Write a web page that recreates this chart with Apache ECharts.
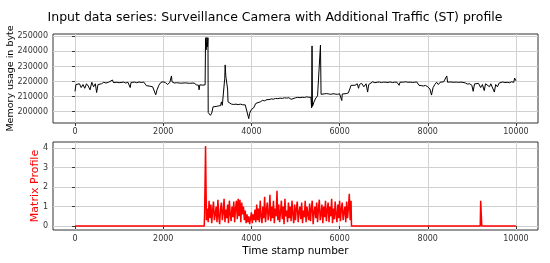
<!DOCTYPE html>
<html>
<head>
<meta charset="utf-8">
<script src="https://cdn.jsdelivr.net/npm/echarts@6/dist/echarts.min.js"></script>
<style>
html,body{margin:0;padding:0;background:#fff;}
#echart{width:550px;height:263px;}
</style>
</head>
<body>
<div id="echart"></div>
<script>
// memory usage (top panel)
var memT = [0,20,60,100,140,180,220,260,300,340,380,420,460,490,520,560,600,650,700,760,800,850,870,950,1000,1100,1150,1200,1250,1270,1350,1400,1450,1500,1560,1600,1620,1680,1720,1760,1800,1830,1860,1900,1950,2000,2050,2100,2150,2187,2200,2250,2300,2400,2500,2600,2700,2750,2800,2813,2830,2900,2950,2960,2975,2990,3005,3015,3020,3040,3070,3100,3130,3200,3250,3300,3320,3340,3380,3395,3405,3420,3440,3460,3470,3500,3550,3600,3650,3700,3750,3800,3860,3900,3940,3960,4000,4050,4100,4150,4200,4250,4300,4350,4400,4450,4500,4550,4600,4650,4700,4750,4800,4850,4900,4920,5000,5050,5100,5150,5200,5250,5300,5350,5365,5375,5385,5420,5460,5500,5540,5566,5580,5650,5700,5750,5800,5850,5900,5950,6000,6050,6060,6100,6150,6200,6240,6260,6300,6350,6400,6430,6450,6500,6550,6600,6636,6660,6700,6750,6800,6850,6900,6950,7000,7050,7100,7150,7200,7250,7300,7350,7370,7400,7450,7500,7550,7600,7650,7700,7750,7800,7850,7900,7950,8000,8050,8084,8120,8160,8200,8240,8280,8320,8360,8400,8431,8450,8500,8550,8600,8650,8700,8750,8800,8850,8900,8950,9000,9030,9060,9100,9150,9200,9240,9280,9310,9350,9400,9430,9470,9510,9540,9580,9620,9660,9700,9750,9800,9850,9900,9950,9970,9999];
var memV = [213500,218000,217500,218500,216000,218000,215500,218500,217000,214500,219500,216500,218500,212700,218000,219000,218500,219500,219000,219500,219200,221000,219300,219500,219200,219600,219000,219500,216000,219400,219600,219200,219700,219400,219600,219500,217200,217000,217500,216500,215500,211200,214500,217500,219500,219800,219300,218000,219500,223700,219800,219000,219200,218900,219100,218800,219000,217800,217500,214500,217800,217600,217800,249000,241000,249200,243000,249000,199500,198500,197600,199000,203200,203500,203800,204000,206500,204200,204500,222000,231000,223500,223000,215000,206500,205500,205000,204800,205000,204700,205000,204600,204500,203500,195400,199000,201500,202500,205500,206000,206500,207500,207200,208000,208000,208500,208300,208800,208600,209000,208800,209200,209000,209300,208200,209300,209200,209500,209300,209600,209400,209800,209600,209500,202600,243600,203500,206500,209000,210500,211200,244100,211500,211800,212000,211800,211500,211900,211700,211500,211900,207400,211700,211800,212000,212500,212300,217500,218000,217500,218500,215500,218000,218800,216500,218500,213000,218000,218500,219800,219200,219500,219700,219300,219600,219500,219400,219700,219300,219600,219500,217500,219500,219400,219600,219800,219500,219600,219400,219500,219700,217500,217300,217000,217400,216500,215000,211000,216000,218000,219500,218000,219500,219200,219800,219400,223700,219500,219700,219600,219500,219600,219400,219600,219400,219100,218300,218500,217500,213500,218400,218300,218800,216000,218000,214000,218500,218300,216500,218500,218400,213000,218000,216500,219000,218500,219700,219300,219500,219200,219800,219500,222300,220500];

// matrix profile (bottom panel): flat parts
var mpT = [0,2930,6270,9190,9200,9210,9225,9999];
var mpV = [0,0,0,0,1.3,1.4,0,0];
// dense noisy block, one reading every 20 stamps from 2940
var mpNoiseStart = 2940;
var mpNoiseStep = 20;
var mpNoise = [
  0.75,4.1,0.3,0.9,0.2,1.3,0.4,1.1,0.15,0.8,1.25,0.3,0.6,1.0,0.2,1.35,0.5,0.1,0.9,1.2,0.3,0.7,1.4,0.2,0.85,0.4,1.1,0.15,1.3,0.6,0.25,1.0,0.45,1.25,0.2,0.9,1.3,0.35,1.4,0.5,1.35,0.2,1.2,0.6,1.0,0.3,0.8,0.15,0.6,
  0.2,0.5,0.1,0.4,0.7,0.15,0.6,0.3,0.85,0.2,
  1.1,0.3,0.9,0.2,1.3,0.5,0.15,1.0,0.4,1.5,0.2,0.8,1.2,0.3,0.6,1.6,0.25,1.0,0.4,1.3,
  0.15,0.9,0.5,1.8,0.3,1.1,0.2,0.7,1.3,0.35,1.0,0.1,1.4,0.5,0.8,0.2,1.2,0.4,1.0,0.25,
  1.3,0.6,0.15,1.1,0.3,0.9,1.25,0.2,0.7,1.0,0.35,1.2,0.15,0.8,0.45,1.3,0.2,1.0,0.6,0.3,
  1.15,0.25,0.9,1.3,0.1,0.7,1.0,0.4,1.2,0.2,0.85,1.35,0.3,0.6,1.1,0.15,1.0,0.45,1.3,0.25,
  0.8,1.2,0.2,1.0,0.5,1.4,0.15,0.9,0.35,1.25,0.6,0.2,1.1,0.4,1.3,0.25,0.9,1.2,0.3,0.7,
  1.0,0.2,1.25,0.4,0.9,1.65,0.3,1.3
];

var xTicks = [0,2000,4000,6000,8000,10000];
var memTicks = [200000,210000,220000,230000,240000,250000];
var mpTicks = [0,1,2,3,4];

var memData = [];
for (var i = 0; i < memT.length; i++) memData.push([memT[i], memV[i]]);

var mpData = [];
mpData.push([mpT[0], mpV[0]], [mpT[1], mpV[1]]);
for (var j = 0; j < mpNoise.length; j++) {
  mpData.push([mpNoiseStart + j * mpNoiseStep, mpNoise[j]]);
}
for (var k = 2; k < mpT.length; k++) mpData.push([mpT[k], mpV[k]]);

var FONT = 'DejaVu Sans';
var gridLine = { show: true, lineStyle: { color: '#d0d0d0', width: 1 } };
// plain numbers, no thousands separators
function plain(v) { return String(v); }
var tickLabel = { color: '#333', fontSize: 8, fontFamily: FONT, formatter: plain };

function xAxisOf(idx, name) {
  return {
    type: 'value', gridIndex: idx, min: -500, max: 10500,
    axisLine: { show: false },
    axisTick: { show: true, inside: false, length: 3, customValues: xTicks, lineStyle: { color: '#333' } },
    axisLabel: Object.assign({ customValues: xTicks, margin: 5 }, tickLabel),
    splitLine: gridLine,
    name: name, nameLocation: 'middle', nameGap: 16, nameMoveOverlap: false,
    nameTextStyle: { fontSize: 10.5, color: '#000', fontFamily: FONT }
  };
}

var myChart = echarts.init(document.getElementById('echart'), null, { renderer: 'canvas' });

var option = {
  animation: false,
  backgroundColor: '#fff',
  title: {
    text: 'Input data series: Surveillance Camera with Additional Traffic (ST) profile',
    left: 'center', top: 6,
    textStyle: { fontSize: 12.5, fontWeight: 'normal', color: '#000', fontFamily: FONT }
  },
  grid: [
    { left: 53, right: 12, top: 34, height: 89, containLabel: false, outerBoundsMode: 'none',
      show: true, borderColor: '#333', borderWidth: 1, backgroundColor: 'transparent' },
    { left: 53, right: 12, top: 142, height: 88, containLabel: false, outerBoundsMode: 'none',
      show: true, borderColor: '#333', borderWidth: 1, backgroundColor: 'transparent' }
  ],
  xAxis: [xAxisOf(0, ''), xAxisOf(1, 'Time stamp number')],
  yAxis: [
    {
      type: 'value', gridIndex: 0, min: 192500, max: 251500,
      axisLine: { show: false },
      axisTick: { show: true, length: 3, customValues: memTicks, lineStyle: { color: '#333' } },
      axisLabel: Object.assign({ customValues: memTicks, margin: 5 }, tickLabel),
      splitLine: gridLine,
      name: 'Memory usage in byte', nameLocation: 'middle', nameGap: 37, nameMoveOverlap: false,
      nameTextStyle: { fontSize: 9.5, color: '#000', fontFamily: FONT }
    },
    {
      type: 'value', gridIndex: 1, min: -0.2, max: 4.3,
      axisLine: { show: false },
      axisTick: { show: true, length: 3, customValues: mpTicks, lineStyle: { color: '#333' } },
      axisLabel: Object.assign({ customValues: mpTicks, margin: 5 }, tickLabel),
      splitLine: gridLine,
      name: 'Matrix Profile', nameLocation: 'middle', nameGap: 12, nameMoveOverlap: false,
      nameTextStyle: { fontSize: 11, color: '#ff0000', fontFamily: FONT }
    }
  ],
  series: [
    {
      type: 'line', xAxisIndex: 0, yAxisIndex: 0, data: memData,
      showSymbol: false, sampling: null,
      lineStyle: { color: '#000', width: 1 }
    },
    {
      type: 'line', xAxisIndex: 1, yAxisIndex: 1, data: mpData,
      showSymbol: false,
      lineStyle: { color: '#ff0000', width: 1.5 }
    }
  ]
};
myChart.setOption(option);
</script>
</body>
</html>
